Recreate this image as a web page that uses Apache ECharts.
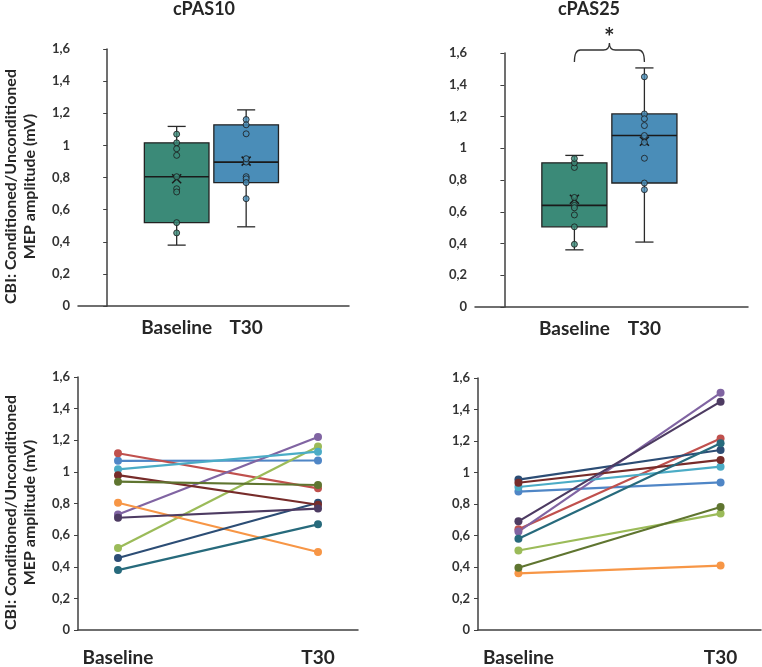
<!DOCTYPE html>
<html>
<head>
<meta charset="utf-8">
<script src="https://cdn.jsdelivr.net/npm/echarts@6/dist/echarts.min.js"></script>
<style>
  html, body { margin: 0; padding: 0; background: #fff; }
  #chart { width: 762px; height: 667px; }
</style>
</head>
<body>
<div id="chart"></div>
<script>
// x categories
var timeLabels = ['Baseline', 'T30']
var panelTitles = ['cPAS10', 'cPAS25']

// one value per subject, same subject order in both arrays
var cpas10Baseline = [1.07, 1.118, 0.519, 0.730, 1.016, 0.805, 0.455, 0.979, 0.938, 0.710, 0.379]
var cpas10T30 = [1.072, 0.896, 1.161, 1.221, 1.128, 0.493, 0.805, 0.792, 0.917, 0.768, 0.668]
var cpas25Baseline = [0.879, 0.640, 0.505, 0.625, 0.908, 0.360, 0.955, 0.935, 0.395, 0.690, 0.580]
var cpas25T30 = [0.937, 1.216, 0.739, 1.506, 1.037, 0.409, 1.143, 1.080, 0.781, 1.450, 1.186]

var subjectColors = ['#4F86C6', '#C0504D', '#9BBB59', '#8064A2', '#4BACC6', '#F79646',
  '#2C4D75', '#772C2A', '#5F7530', '#4D3B62', '#276A7C']
var boxColors = ['#3B8A78', '#4A8DB8']

var FONT = 'Lato, "Open Sans", sans-serif'
var TXT = '#262626'

// Excel style exclusive quartiles
function quartile(s, p) {
  var pos = p * (s.length + 1) - 1
  var lo = Math.floor(pos)
  if (lo < 0) return s[0]
  if (lo + 1 >= s.length) return s[s.length - 1]
  return s[lo] + (pos - lo) * (s[lo + 1] - s[lo])
}
function boxItem(x, vals) {
  var s = vals.slice().sort(function (a, b) { return a - b })
  var sum = 0
  for (var i = 0; i < s.length; i++) sum += s[i]
  return [x, s[0], quartile(s, 0.25), quartile(s, 0.5), quartile(s, 0.75), s[s.length - 1], sum / s.length]
}
function innerPoints(x, vals) {
  var mn = Math.min.apply(null, vals)
  var mx = Math.max.apply(null, vals)
  var out = []
  vals.forEach(function (v) {
    if (v !== mn && v !== mx) out.push([x, v])
  })
  return out
}

function renderBox(params, api) {
  var x = api.value(0)
  var lo = api.coord([x, api.value(1)])
  var q1 = api.coord([x, api.value(2)])
  var med = api.coord([x, api.value(3)])
  var q3 = api.coord([x, api.value(4)])
  var hi = api.coord([x, api.value(5)])
  var mean = api.coord([x, api.value(6)])
  var w = api.size([0.93, 0])[0]
  var cap = api.size([0.26, 0])[0]
  var cx = lo[0]
  var line = { stroke: '#2a2a2a', lineWidth: 1.3 }
  var m = 4.5
  return {
    type: 'group',
    children: [
      { type: 'line', shape: { x1: cx, y1: hi[1], x2: cx, y2: q3[1] }, style: line },
      { type: 'line', shape: { x1: cx, y1: q1[1], x2: cx, y2: lo[1] }, style: line },
      { type: 'line', shape: { x1: cx - cap / 2, y1: hi[1], x2: cx + cap / 2, y2: hi[1] }, style: line },
      { type: 'line', shape: { x1: cx - cap / 2, y1: lo[1], x2: cx + cap / 2, y2: lo[1] }, style: line },
      {
        type: 'rect',
        shape: { x: cx - w / 2, y: q3[1], width: w, height: q1[1] - q3[1] },
        style: { fill: boxColors[params.dataIndex], stroke: '#222', lineWidth: 1.3 }
      },
      { type: 'line', shape: { x1: cx - w / 2, y1: med[1], x2: cx + w / 2, y2: med[1] }, style: { stroke: '#1a1a1a', lineWidth: 1.6 } },
      { type: 'line', z2: 10, shape: { x1: cx - m, y1: mean[1] - m, x2: cx + m, y2: mean[1] + m }, style: { stroke: '#1a1a1a', lineWidth: 1.5 } },
      { type: 'line', z2: 10, shape: { x1: cx - m, y1: mean[1] + m, x2: cx + m, y2: mean[1] - m }, style: { stroke: '#1a1a1a', lineWidth: 1.5 } }
    ]
  }
}

// curly bracket with the significance star, between the two boxes
function renderBrace(params, api) {
  var a = api.coord([api.value(0), 1.6])
  var b = api.coord([api.value(1), 1.6])
  var mid = (a[0] + b[0]) / 2
  var yl = a[1] - 3
  var yb = a[1] + 9
  var yt = a[1] - 10
  var r = 6
  var p = 'M' + a[0] + ',' + yb +
    ' Q' + a[0] + ',' + yl + ' ' + (a[0] + r) + ',' + yl +
    ' L' + (mid - r) + ',' + yl +
    ' Q' + mid + ',' + yl + ' ' + mid + ',' + yt +
    ' Q' + mid + ',' + yl + ' ' + (mid + r) + ',' + yl +
    ' L' + (b[0] - r) + ',' + yl +
    ' Q' + b[0] + ',' + yl + ' ' + b[0] + ',' + yb
  return {
    type: 'group',
    children: [
      { type: 'path', shape: { pathData: p }, style: { fill: 'none', stroke: '#333', lineWidth: 1.3 } },
      {
        type: 'text',
        style: { text: '*', x: mid, y: a[1] - 15, align: 'center', verticalAlign: 'middle', fill: TXT, font: 'bold 25px ' + FONT }
      }
    ]
  }
}

function yAxisOf(gridIndex, withName) {
  var ax = {
    type: 'value',
    gridIndex: gridIndex,
    min: 0,
    max: 1.6,
    interval: 0.2,
    splitLine: { show: false },
    axisLine: { show: true, lineStyle: { color: '#404040', width: 1.5 } },
    axisTick: { show: true, length: 4, lineStyle: { color: '#404040' } },
    axisLabel: {
      margin: 8,
      color: '#333',
      fontFamily: FONT,
      fontWeight: 'bold',
      fontSize: 13,
      formatter: function (v) { return String(+v.toFixed(1)).replace('.', ',') }
    }
  }
  if (withName) {
    ax.name = 'CBI: Conditioned/Unconditioned\nMEP amplitude (mV)'
    ax.nameLocation = 'middle'
    ax.nameGap = 39
    ax.nameTextStyle = { color: TXT, fontFamily: FONT, fontWeight: 'bold', fontSize: 16, lineHeight: 19, align: 'center', padding: [0, 18, 0, 0] }
  }
  return ax
}

function xAxisOf(gridIndex, min, max, margin) {
  return {
    type: 'value',
    gridIndex: gridIndex,
    min: min,
    max: max,
    splitLine: { show: false },
    axisLine: { show: true, onZero: false, lineStyle: { color: '#404040', width: 1.5 } },
    axisTick: { show: false },
    axisLabel: {
      customValues: [1, 2],
      margin: margin,
      color: TXT,
      fontFamily: FONT,
      fontWeight: 'bold',
      fontSize: 19,
      formatter: function (v) { return timeLabels[Math.round(v) - 1] }
    }
  }
}

var series = []

// top row: box plots
var boxSets = [[cpas10Baseline, cpas10T30], [cpas25Baseline, cpas25T30]]
boxSets.forEach(function (set, g) {
  series.push({
    type: 'custom',
    xAxisIndex: g,
    yAxisIndex: g,
    renderItem: renderBox,
    data: [boxItem(1, set[0]), boxItem(2, set[1])]
  })
  set.forEach(function (vals, k) {
    series.push({
      type: 'scatter',
      xAxisIndex: g,
      yAxisIndex: g,
      symbol: 'circle',
      symbolSize: 6,
      z: 5,
      itemStyle: { color: boxColors[k], borderColor: '#1a1a1a', borderWidth: 1 },
      data: innerPoints(k + 1, vals)
    })
  })
})

series.push({
  type: 'custom',
  xAxisIndex: 1,
  yAxisIndex: 1,
  renderItem: renderBrace,
  data: [[1, 2]],
  z: 6
})

// bottom row: one line per subject
var lineSets = [[cpas10Baseline, cpas10T30], [cpas25Baseline, cpas25T30]]
lineSets.forEach(function (set, g) {
  for (var i = 0; i < set[0].length; i++) {
    series.push({
      type: 'line',
      xAxisIndex: g + 2,
      yAxisIndex: g + 2,
      symbol: 'circle',
      symbolSize: 8,
      showSymbol: true,
      color: subjectColors[i],
      lineStyle: { width: 2.2 },
      data: [[1, set[0][i]], [2, set[1][i]]]
    })
  }
})

var chart = echarts.init(document.getElementById('chart'))
chart.setOption({
  animation: false,
  backgroundColor: '#fff',
  title: [
    { text: panelTitles[0], left: 204, top: 0, textAlign: 'center', padding: 0, textStyle: { color: TXT, fontFamily: FONT, fontWeight: 'bold', fontSize: 18 } },
    { text: panelTitles[1], left: 589, top: 0, textAlign: 'center', padding: 0, textStyle: { color: TXT, fontFamily: FONT, fontWeight: 'bold', fontSize: 18 } }
  ],
  grid: [
    { left: 76, top: 49, width: 273, height: 257 },
    { left: 475, top: 53, width: 273, height: 254 },
    { left: 78, top: 377, width: 280, height: 257 },
    { left: 478, top: 378, width: 283, height: 256 }
  ],
  xAxis: [
    xAxisOf(0, -0.42, 3.48, 12),
    xAxisOf(1, -0.42, 3.48, 12),
    xAxisOf(2, 0.8, 2.2, 18),
    xAxisOf(3, 0.8, 2.2, 18)
  ],
  yAxis: [
    yAxisOf(0, true),
    yAxisOf(1, false),
    yAxisOf(2, true),
    yAxisOf(3, false)
  ],
  series: series
})
</script>
</body>
</html>
